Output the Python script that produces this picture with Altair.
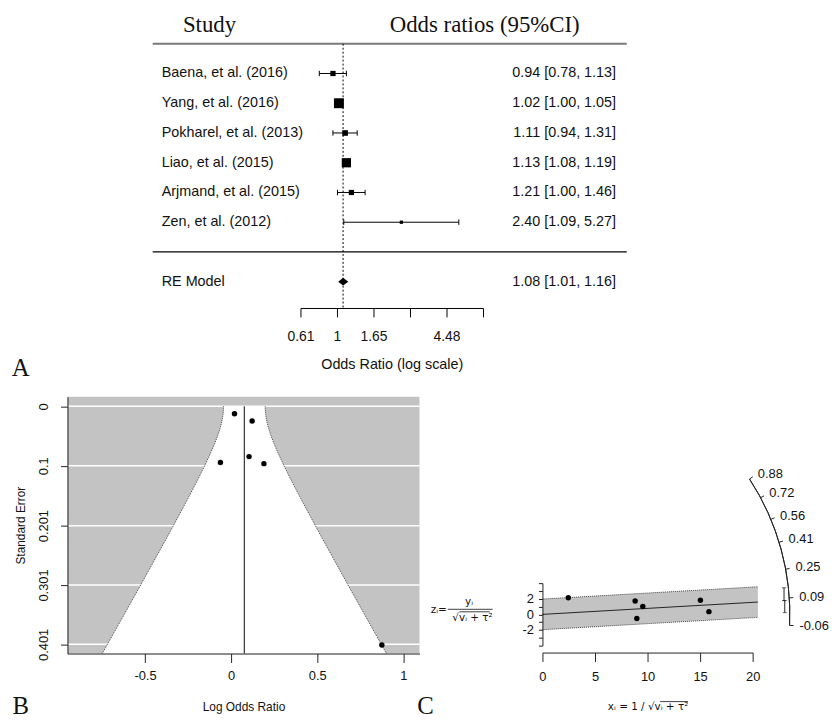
import math
import numpy as np
import pandas as pd
import altair as alt

# ---------------- data ----------------
studies = ["Baena, et al. (2016)", "Yang, et al. (2016)", "Pokharel, et al. (2013)",
           "Liao, et al. (2015)", "Arjmand, et al. (2015)", "Zen, et al. (2012)"]
odds_ratio = [0.94, 1.02, 1.11, 1.13, 1.21, 2.40]
ci_lower = [0.78, 1.00, 0.94, 1.08, 1.00, 1.09]
ci_upper = [1.13, 1.05, 1.31, 1.19, 1.46, 5.27]
weight_pct = [10.9, 34.1, 12.7, 30.8, 10.6, 0.9]
re_label = "RE Model"
re_or = [1.08, 1.01, 1.16]          # estimate, lower, upper
tau2 = 0.0038

forest_tick_values = [-0.5, 0, 0.5, 1, 1.5, 2]
forest_tick_labels = ["0.61", "1", "1.65", "", "4.48", ""]

funnel_x_ticks = [-0.5, 0, 0.5, 1]
funnel_se_ticks = [0, 0.1, 0.201, 0.301, 0.401]
funnel_se_grid = [0, 0.01, 0.02, 0.03, 0.04, 0.05, 0.06, 0.08, 0.1, 0.125,
                  0.15, 0.2, 0.25, 0.3, 0.35, 0.4165]

radial_x = [8.98, 15.84, 9.55, 15.03, 8.82, 2.46]
radial_z = [-0.52, 0.35, 1.00, 1.82, 1.72, 2.13]
radial_x_ticks = [0, 5, 10, 15, 20]
radial_z_ticks = [-4, -3, -2, -1, 0, 1, 2, 3, 4]
radial_band_x = [0, 20.5]
arc_values = [-0.06, 0.09, 0.25, 0.41, 0.56, 0.72, 0.88]

# ---------------- layout ----------------
A_W, A_H = 564, 369
A_XDOM = [-3.697, 3.961]
A_YDOM = [-4.2, 8.1]
B_W, B_H = 355, 259
B_XDOM = [-0.95, 1.094]
B_YDOM = [-0.0162, 0.4165]
C_W, C_H = 212, 63
C_XDOM = [0, 20]
C_YDOM = [-4, 4]
SX = C_W / (C_XDOM[1] - C_XDOM[0])
SY = C_H / (C_YDOM[1] - C_YDOM[0])
K = SY / SX
R_ARC = 249.5
GRAY = "#c3c3c3"
INK = "#111111"
SERIF = "Liberation Serif"
MATH = "DejaVu Sans"


def sc(dom, rev=False):
    if rev:
        return alt.Scale(domain=dom, nice=False, zero=False, reverse=True)
    return alt.Scale(domain=dom, nice=False, zero=False)


lest = math.log(re_or[0])
llo_re = math.log(re_or[1])
lhi_re = math.log(re_or[2])

# ================= Panel A : forest plot =================
def ax(f):
    return alt.X(f, type="quantitative", scale=sc(A_XDOM), axis=None)


def ay(f):
    return alt.Y(f, type="quantitative", scale=sc(A_YDOM), axis=None)


fd = pd.DataFrame({"study": studies, "orv": odds_ratio, "lo": ci_lower,
                   "hi": ci_upper, "w": weight_pct})
fd["row"] = np.arange(len(studies), 0, -1)
fd["lor"] = np.log(fd["orv"])
fd["llo"] = np.log(fd["lo"])
fd["lhi"] = np.log(fd["hi"])
fd["txt"] = [f"{o:.2f} [{l:.2f}, {h:.2f}]" for o, l, h in zip(odds_ratio, ci_lower, ci_upper)]
wmin, wmax = min(weight_pct), max(weight_pct)
fd["sq"] = (3.3 + 6.7 * (fd["w"] - wmin) / (wmax - wmin)) ** 2
fd["cap_hi"] = fd["row"] + 0.09
fd["cap_lo"] = fd["row"] - 0.09
fd["name_x"] = -2.407
fd["txt_x"] = 3.815

fA = alt.Chart(fd)
ci_lines = fA.mark_rule(color="black", strokeWidth=1).encode(x=ax("llo"), x2="lhi", y=ay("row"))
caps = fA.transform_fold(["llo", "lhi"], as_=["end", "xe"]).mark_rule(
    color="black", strokeWidth=1).encode(x=ax("xe"), y=ay("cap_lo"), y2="cap_hi")
squares = fA.mark_square(color="black", opacity=1).encode(
    x=ax("lor"), y=ay("row"), size=alt.Size("sq:Q", scale=None))
names = fA.mark_text(align="left", baseline="middle", fontSize=14.5, color=INK).encode(
    x=ax("name_x"), y=ay("row"), text="study:N")
vals = fA.mark_text(align="right", baseline="middle", fontSize=14.5, color=INK).encode(
    x=ax("txt_x"), y=ay("row"), text="txt:N")

re_df = pd.DataFrame({"name": [re_label], "row": [-1],
                      "txt": [f"{re_or[0]:.2f} [{re_or[1]:.2f}, {re_or[2]:.2f}]"],
                      "name_x": [-2.407], "txt_x": [3.815]})
re_name = alt.Chart(re_df).mark_text(align="left", baseline="middle", fontSize=14.5, color=INK).encode(
    x=ax("name_x"), y=ay("row"), text="name:N")
re_val = alt.Chart(re_df).mark_text(align="right", baseline="middle", fontSize=14.5, color=INK).encode(
    x=ax("txt_x"), y=ay("row"), text="txt:N")
dia = pd.DataFrame({"x": [llo_re, lest, lhi_re], "y": [-1, -0.87, -1], "y2": [-1, -1.13, -1]})
diamond = alt.Chart(dia).mark_area(color="black", opacity=1).encode(x=ax("x"), y=ay("y"), y2="y2")

top_rule = alt.Chart(pd.DataFrame({"x": [-2.53], "x2": [3.961], "y": [7]})).mark_rule(
    color="#7a7a7a", strokeWidth=2).encode(x=ax("x"), x2="x2", y=ay("y"))
mid_rule = alt.Chart(pd.DataFrame({"x": [-2.53], "x2": [3.961], "y": [0]})).mark_rule(
    color="black", strokeWidth=1.2).encode(x=ax("x"), x2="x2", y=ay("y"))
dotted = alt.Chart(pd.DataFrame({"x": [lest], "y": [7], "y2": [-1.9]})).mark_rule(
    color="black", strokeWidth=1, strokeDash=[2, 2]).encode(x=ax("x"), y=ay("y"), y2="y2")

at = pd.DataFrame({"v": forest_tick_values, "lab": forest_tick_labels})
at["y"] = -1.9
at["y2"] = -2.2
at["ly"] = -2.87
f_axis_line = alt.Chart(pd.DataFrame({"x": [min(forest_tick_values)], "x2": [max(forest_tick_values)],
                                      "y": [-1.9]})).mark_rule(color="black", strokeWidth=1).encode(
    x=ax("x"), x2="x2", y=ay("y"))
f_ticks = alt.Chart(at).mark_rule(color="black", strokeWidth=1).encode(x=ax("v"), y=ay("y"), y2="y2")
f_labels = alt.Chart(at).mark_text(fontSize=14, baseline="middle", color=INK).encode(
    x=ax("v"), y=ay("ly"), text="lab:N")
f_title = alt.Chart(pd.DataFrame({"x": [float(np.mean([min(forest_tick_values), max(forest_tick_values)]))],
                                  "y": [-3.8], "t": ["Odds Ratio (log scale)"]})).mark_text(
    fontSize=14.5, baseline="middle", color=INK).encode(x=ax("x"), y=ay("y"), text="t:N")

heads = alt.Chart(pd.DataFrame({"x": [-1.752, 2.016], "y": [7.64, 7.64],
                                "t": ["Study", "Odds ratios (95%CI)"]})).mark_text(
    font=SERIF, fontSize=23, baseline="middle", color=INK).encode(x=ax("x"), y=ay("y"), text="t:N")
lab_a = alt.Chart(pd.DataFrame({"x": [-4.338], "y": [-4.167], "t": ["A"]})).mark_text(
    font=SERIF, fontSize=25, baseline="alphabetic", color=INK).encode(x=ax("x"), y=ay("y"), text="t:N")

panel_a = alt.layer(top_rule, mid_rule, dotted, ci_lines, caps, squares, names, vals,
                    re_name, re_val, diamond, f_axis_line, f_ticks, f_labels, f_title,
                    heads, lab_a).properties(width=A_W, height=A_H)

# ================= Panel B : funnel plot =================
b_xaxis = alt.Axis(values=funnel_x_ticks, title="Log Odds Ratio",
                   labelExpr="datum.value < 0 ? '-' + format(-datum.value, '~g') : format(datum.value, '~g')",
                   tickSize=9, labelPadding=7, titlePadding=19, labelFontSize=13, titleFontSize=12,
                   titleFontWeight="normal", domainColor="#222", tickColor="#222", labelColor=INK,
                   titleColor=INK, grid=False, zindex=1, labelFlush=False, labelOverlap=False)
b_yaxis = alt.Axis(values=funnel_se_ticks, format=".3~f", title="Standard Error", labelAngle=270,
                   labelAlign="center", labelBaseline="bottom", tickSize=7, labelPadding=10,
                   titlePadding=10, labelFontSize=13, titleFontSize=12, titleFontWeight="normal",
                   domainColor="#222", tickColor="#222", labelColor=INK, titleColor=INK, grid=False,
                   zindex=1, labelFlush=False, labelOverlap=False)


def bx(f):
    return alt.X(f, type="quantitative", scale=sc(B_XDOM), axis=b_xaxis)


def by(f):
    return alt.Y(f, type="quantitative", scale=sc(B_YDOM, rev=True), axis=b_yaxis)


bd = pd.DataFrame({"lor": fd["lor"], "se": (fd["lhi"] - fd["llo"]) / (2 * 1.959964)})
fun = pd.DataFrame({"se": funnel_se_grid})
fun["lower"] = lest - 1.96 * np.sqrt(fun["se"] ** 2 + tau2)
fun["upper"] = lest + 1.96 * np.sqrt(fun["se"] ** 2 + tau2)

b_bg = alt.Chart(pd.DataFrame({"x": [B_XDOM[0]], "x2": [B_XDOM[1]], "y": [B_YDOM[0]], "y2": [B_YDOM[1]]})).mark_rect(
    color=GRAY, opacity=1).encode(x=bx("x"), x2="x2", y=by("y"), y2="y2")
b_grid = alt.Chart(pd.DataFrame({"se": funnel_se_ticks})).mark_rule(color="white", strokeWidth=1.5).encode(
    y=by("se"))
b_funnel = alt.Chart(fun).mark_area(color="white", opacity=1, orient="horizontal").encode(
    y=by("se"), x=bx("lower"), x2="upper")
b_bounds = alt.Chart(fun).transform_fold(["lower", "upper"], as_=["side", "bxv"]).mark_line(
    color="#444", strokeWidth=1, strokeDash=[1, 1]).encode(
    x=bx("bxv"), y=by("se"), detail="side:N", order="se:Q")
b_est = alt.Chart(pd.DataFrame({"x": [lest], "y": [0], "y2": [max(funnel_se_grid)]})).mark_rule(
    color="#333", strokeWidth=1.2).encode(x=bx("x"), y=by("y"), y2="y2")
b_pts = alt.Chart(bd).mark_circle(color="black", size=30, opacity=1).encode(
    x=bx("lor"), y=by("se"))
lab_b = alt.Chart(pd.DataFrame({"x": [-1.222], "y": [0.519], "t": ["B"]})).mark_text(
    font=SERIF, fontSize=25, baseline="alphabetic", color=INK).encode(x=bx("x"), y=by("y"), text="t:N")

panel_b = alt.layer(b_bg, b_grid, b_funnel, b_bounds, b_est, b_pts, lab_b).properties(width=B_W, height=B_H)

# ================= Panel C : radial (Galbraith) plot =================
c_xaxis = alt.Axis(values=radial_x_ticks, title=None, tickSize=9, offset=7, labelPadding=9,
                   labelFontSize=13, domainColor="#222", tickColor="#222", labelColor=INK,
                   grid=False, labelFlush=False, labelOverlap=False, zindex=1)
c_yaxis = alt.Axis(values=radial_z_ticks, title=None, tickSize=4, labelPadding=5, labelFontSize=13,
                   labelExpr="datum.value == 2 ? '2' : datum.value == 0 ? '0' : datum.value == -2 ? '-2' : ''",
                   domainColor="#222", tickColor="#222", labelColor=INK, grid=False,
                   labelFlush=False, labelOverlap=False, zindex=1)


def cx(f):
    return alt.X(f, type="quantitative", scale=sc(C_XDOM), axis=c_xaxis)


def cy(f):
    return alt.Y(f, type="quantitative", scale=sc(C_YDOM), axis=c_yaxis)


cd = pd.DataFrame({"x": radial_x, "z": radial_z})
band = pd.DataFrame({"x": radial_band_x})
band["mid"] = lest * band["x"]
band["lo"] = band["mid"] - 1.96
band["hi"] = band["mid"] + 1.96

c_band = alt.Chart(band).mark_area(color=GRAY, opacity=1).encode(x=cx("x"), y=cy("lo"), y2="hi")
c_bounds = alt.Chart(band).transform_fold(["lo", "hi"], as_=["side", "bz"]).mark_line(
    color="#444", strokeWidth=1, strokeDash=[1, 1]).encode(x=cx("x"), y=cy("bz"), detail="side:N")
c_line = alt.Chart(band).mark_line(color="#222", strokeWidth=1).encode(x=cx("x"), y=cy("mid"))
c_pts = alt.Chart(cd).mark_circle(color="black", size=30, opacity=1).encode(
    x=cx("x"), y=cy("z"))

ang = np.arctan(np.array(arc_values) * K)
arc_df = pd.DataFrame({"v": arc_values, "lab": [f"{v:.2f}" for v in arc_values]})
arc_df["tx0"] = R_ARC * np.cos(ang) / SX
arc_df["ty0"] = R_ARC * np.sin(ang) / SY
arc_df["tx1"] = (R_ARC + 4) * np.cos(ang) / SX
arc_df["ty1"] = (R_ARC + 4) * np.sin(ang) / SY
arc_df["lx"] = (R_ARC + 10) * np.cos(ang) / SX
arc_df["ly"] = (R_ARC + 10) * np.sin(ang) / SY
th_start = math.pi / 2 - math.atan(max(arc_values) * K)
th_end = math.pi / 2 - math.atan(min(arc_values) * K)

c_arc = alt.Chart(pd.DataFrame({"x": [0.0], "y": [0.0]})).mark_arc(
    filled=False, color="#222", strokeWidth=1).encode(
    x=cx("x"), y=cy("y"), theta=alt.value(th_start), theta2=alt.value(th_end),
    radius=alt.value(R_ARC), radius2=alt.value(R_ARC))
c_arc_ticks = alt.Chart(arc_df).mark_rule(color="#222", strokeWidth=1).encode(
    x=cx("tx0"), y=cy("ty0"), x2="tx1", y2="ty1")
c_arc_labels = alt.Chart(arc_df).mark_text(align="left", baseline="middle", fontSize=13, color=INK).encode(
    x=cx("lx"), y=cy("ly"), text="lab:N")

RB = 244.5
segs = []
for v1, v2 in [(lest, lhi_re), (llo_re, lest)]:
    a1, a2 = math.atan(v1 * K), math.atan(v2 * K)
    xm = RB * math.cos((a1 + a2) / 2) / SX
    segs.append({"x": xm, "y1": RB * math.sin(a1) / SY, "y2": RB * math.sin(a2) / SY})
seg_df = pd.DataFrame(segs)
cap_df = pd.DataFrame({"x": list(seg_df["x"]) * 2, "y": list(seg_df["y1"]) + list(seg_df["y2"])})
c_br = alt.Chart(seg_df).mark_rule(color="#222", strokeWidth=1).encode(x=cx("x"), y=cy("y1"), y2="y2")
c_br_caps = alt.Chart(cap_df).mark_tick(color="#222", orient="horizontal", size=4, thickness=1).encode(
    x=cx("x"), y=cy("y"))

# formula texts (axis titles)
ftxt = pd.DataFrame({
    "x": [-9.1, -6.98, -6.65, 10.05],
    "y": [0.55, 1.63, -0.45, -11.9],
    "t": ["zᵢ=", "yᵢ", "√vᵢ + τ²", "xᵢ = 1 / √vᵢ + τ²"],
})
c_f1 = alt.Chart(ftxt.iloc[[0]]).mark_text(align="right", baseline="middle", font=MATH, fontSize=10.5,
                                           color=INK).encode(x=cx("x"), y=cy("y"), text="t:N")
c_f2 = alt.Chart(ftxt.iloc[[1, 2, 3]]).mark_text(align="center", baseline="middle", font=MATH, fontSize=10.5,
                                                 color=INK).encode(x=cx("x"), y=cy("y"), text="t:N")
frules = pd.DataFrame({"x": [-9.0, -7.9, 11.2], "x2": [-4.75, -5.0, 13.85], "y": [0.65, 0.33, -11.17]})
c_frules = alt.Chart(frules).mark_rule(color=INK, strokeWidth=0.8).encode(x=cx("x"), x2="x2", y=cy("y"))
lab_c = alt.Chart(pd.DataFrame({"x": [-11.13], "y": [-12.8], "t": ["C"]})).mark_text(
    font=SERIF, fontSize=25, baseline="alphabetic", color=INK).encode(x=cx("x"), y=cy("y"), text="t:N")

panel_c = alt.layer(c_band, c_bounds, c_line, c_pts, c_arc, c_arc_ticks, c_arc_labels, c_br, c_br_caps,
                    c_f1, c_f2, c_frules, lab_c).properties(width=C_W, height=C_H)

spacer = alt.Chart(pd.DataFrame({"v": [0]})).mark_point(opacity=0).encode(
    x=alt.X("v:Q", axis=None), y=alt.Y("v:Q", axis=None)).properties(width=C_W, height=188)

c_col = alt.vconcat(spacer, panel_c, spacing=0, bounds="flush")
bottom = alt.hconcat(panel_b, c_col, spacing=124, bounds="flush")
chart = alt.vconcat(panel_a, bottom, spacing=20, bounds="flush").properties(
    padding={"left": 3, "top": 0, "right": 0, "bottom": 0}
).configure(font="Liberation Sans").configure_view(strokeWidth=0)

chart.save("out.html", embed_options={"renderer": "svg", "actions": False})
